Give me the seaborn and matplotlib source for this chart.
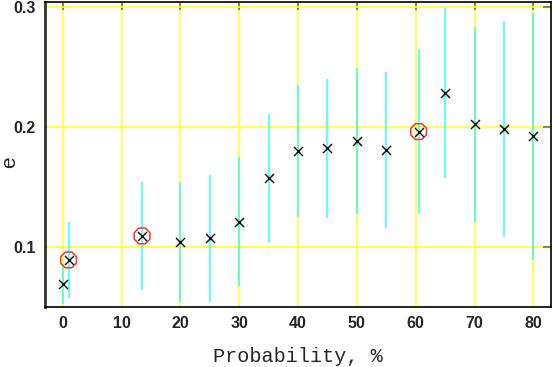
import matplotlib
matplotlib.use("Agg")
import matplotlib.pyplot as plt
import seaborn as sns
import pandas as pd

# data
prob = [0, 1, 13.5, 20, 25, 30, 35, 40, 45, 50, 55, 60.5, 65, 70, 75, 80]
e_val = [0.069, 0.089, 0.109, 0.104, 0.107, 0.121, 0.157, 0.180, 0.182, 0.188,
         0.181, 0.196, 0.228, 0.202, 0.198, 0.192]
e_err = [0.017, 0.032, 0.045, 0.050, 0.053, 0.054, 0.054, 0.055, 0.058, 0.061,
         0.065, 0.069, 0.071, 0.081, 0.090, 0.103]
highlight = [1, 13.5, 60.5]
x_ticks = [0, 10, 20, 30, 40, 50, 60, 70, 80]
y_ticks = [0.1, 0.2, 0.3]

df = pd.DataFrame({"prob": prob, "e": e_val, "err": e_err})
df_h = df[df["prob"].isin(highlight)]

sns.set_style("white")
fig = plt.figure(figsize=(5.53, 3.67), dpi=100)
ax = fig.add_axes([0.0814, 0.1643, 0.915, 0.830])

ax.set_xlim(-3, 83)
ax.set_ylim(0.05, 0.304)
ax.set_xticks(x_ticks)
ax.set_yticks(y_ticks)
ax.set_yticklabels(["0.1", "0.2", "0.3"])

ax.grid(True, color="#ffff33", linewidth=1.2, zorder=0.5)
ax.set_axisbelow(True)

ax.errorbar(df["prob"], df["e"], yerr=df["err"], fmt="none",
            ecolor="#00ffff", elinewidth=1.1, alpha=0.8, capsize=0, zorder=2)

sns.scatterplot(data=df_h, x="prob", y="e", ax=ax, marker="8", s=150,
                facecolor="none", edgecolor="#ff3030", linewidth=1.1, zorder=3)
sns.scatterplot(data=df, x="prob", y="e", ax=ax, marker="x", s=42,
                color="black", linewidth=1.0, zorder=4)

for side in ["top", "right", "bottom"]:
    ax.spines[side].set_color("black")
    ax.spines[side].set_linewidth(1.2)
ax.spines["left"].set_color("#333333")
ax.spines["left"].set_linewidth(2)

ax.tick_params(axis="both", direction="in", length=6, width=1.5, color="#8a8a40",
               top=True, right=True, labelsize=11.5)
ax.tick_params(axis="x", pad=7)
ax.tick_params(axis="y", pad=7)
for lab in ax.get_xticklabels() + ax.get_yticklabels():
    lab.set_fontfamily("Liberation Sans")
    lab.set_fontweight("bold")

ax.set_xlabel("Probability, %", family="Liberation Mono", fontsize=14.5, labelpad=11)
ax.set_ylabel("e", family="Liberation Sans", fontsize=15, labelpad=8)
ax.yaxis.set_label_coords(-0.052, 0.475)

fig.savefig("out.png", dpi=100)
